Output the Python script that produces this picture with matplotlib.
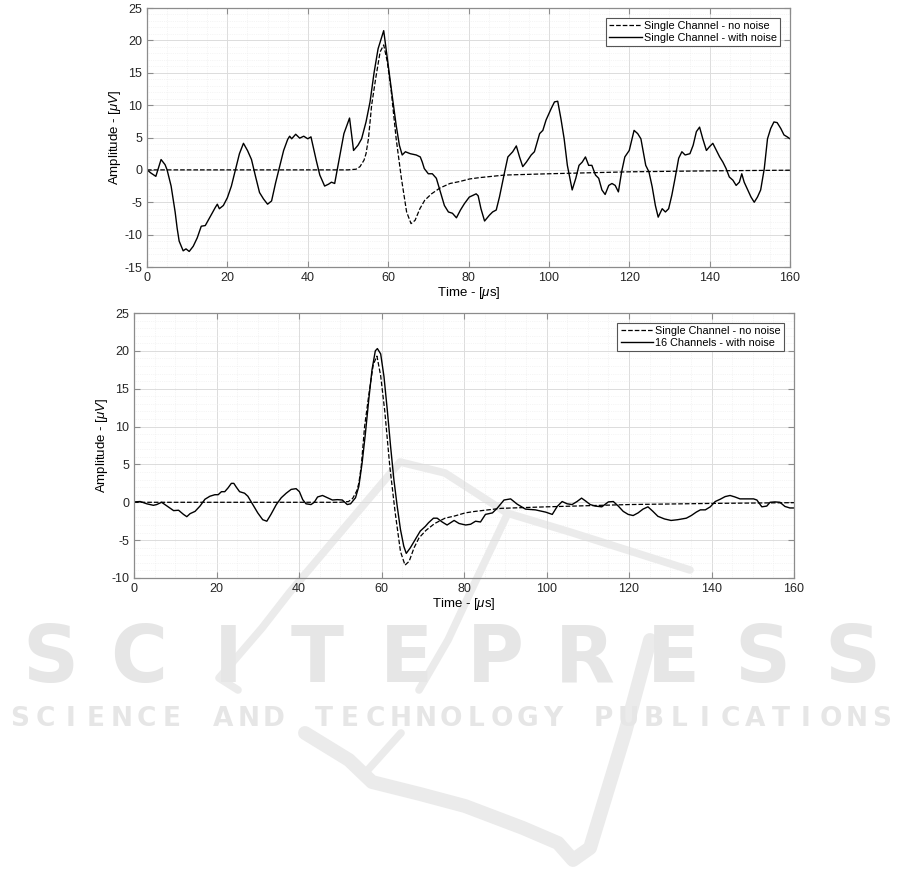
import numpy as np
import matplotlib
matplotlib.use("Agg")
import matplotlib.pyplot as plt
from matplotlib.ticker import MultipleLocator
from matplotlib.lines import Line2D

plt.rcParams['font.family'] = ['Liberation Sans', 'DejaVu Sans']
plt.rcParams['mathtext.fontset'] = 'custom'
plt.rcParams['mathtext.rm'] = 'Liberation Sans'
plt.rcParams['mathtext.it'] = 'Liberation Sans:italic'
plt.rcParams['axes.unicode_minus'] = False

# data
# single channel, with noise (top)
t_top = [0, 1, 2.2, 3.5, 4.5, 5, 6, 7, 7.5, 8, 9, 9.7, 10.5, 11.5, 12.5, 13.5, 14.5, 15.5, 16.2, 17,
         17.5, 18, 19, 20, 21, 22, 23, 24, 25, 26, 27, 28, 29, 30, 31, 32, 33, 34, 35, 35.5,
         36, 37, 38, 39, 40, 40.8, 42.1, 43, 44.2, 45.2, 45.9, 46.7, 48, 49, 50.4, 51.4, 52.5, 53.4, 54.5, 55.5,
         56.5, 57.5, 58.9, 60, 61, 62, 62.8, 63.5, 64.3, 65.5, 67, 68, 68.5, 69, 70, 71, 72, 73, 74, 75,
         76, 77, 78, 79, 80.2, 81.9, 82.4, 83.1, 84, 85.2, 86, 86.9, 87.7, 89, 89.8, 91, 91.9, 92.7, 93.5, 94.4,
         95.6, 96.4, 97.7, 98.5, 99.3, 100.6, 101.4, 102.2, 103, 103.8, 104.6, 105.8, 106.7, 107.5, 108.3, 109.1, 109.9, 110.7, 111.6, 112.4,
         113.2, 114, 114.9, 115.7, 116.5, 117.3, 118.1, 118.9, 120, 121.2, 122.1, 122.9, 124.1, 124.9, 125.7, 126.5, 127.2, 128.2, 129, 129.8,
         130.6, 131.4, 132.3, 133.1, 133.9, 135.1, 135.9, 136.7, 137.5, 138.3, 139.2, 140, 140.8, 141.7, 142.5, 143.3, 144.1, 144.9, 145.8, 146.6,
         147.4, 148, 148.6, 149.5, 150.3, 151.1, 151.9, 152.7, 153.6, 154.4, 155.2, 156, 156.8, 157.7, 158.5, 159.3, 160]
amp_top = [0.0, -0.5, -1.0, 1.6, 0.8, 0.0, -2.5, -6.5, -9.0, -11.0, -12.5, -12.2, -12.6, -11.8, -10.5, -8.7, -8.6, -7.5, -6.7, -5.8,
           -5.3, -6.0, -5.5, -4.3, -2.5, 0.0, 2.5, 4.1, 3.0, 1.6, -1.0, -3.5, -4.5, -5.3, -4.8, -2.0, 0.5, 3.0, 4.7, 5.2,
           4.8, 5.5, 4.9, 5.2, 4.8, 5.1, 1.5, -0.8, -2.5, -2.2, -1.9, -2.1, 2.3, 5.6, 8.0, 3.0, 3.8, 4.8, 7.4, 10.5,
           15.0, 18.7, 21.5, 16.2, 11.5, 6.9, 3.8, 2.3, 2.8, 2.5, 2.3, 2.0, 1.2, 0.2, -0.6, -0.6, -1.3, -3.4, -5.5, -6.5,
           -6.7, -7.4, -6.2, -5.2, -4.2, -3.7, -4.0, -6.0, -7.9, -7.0, -6.5, -6.2, -4.2, -0.3, 2.0, 2.8, 3.7, 2.0, 0.5, 1.2,
           2.3, 2.8, 5.6, 6.1, 7.7, 9.5, 10.5, 10.6, 7.9, 4.8, 0.7, -3.1, -1.3, 0.7, 1.2, 2.0, 0.7, 0.7, -0.8, -1.3,
           -3.1, -3.8, -2.4, -2.1, -2.4, -3.4, -0.3, 2.0, 3.0, 6.1, 5.6, 4.8, 0.7, -0.3, -2.6, -5.5, -7.3, -6.0, -6.5, -6.0,
           -3.9, -1.3, 1.8, 2.8, 2.3, 2.5, 3.8, 5.9, 6.6, 4.8, 3.0, 3.6, 4.1, 3.0, 2.0, 1.2, 0.2, -1.1, -1.6, -2.4,
           -1.9, -0.6, -1.9, -3.1, -4.2, -5.0, -4.2, -3.1, 0.2, 4.8, 6.4, 7.4, 7.3, 6.4, 5.4, 5.1, 4.8]

# single channel, no noise (both plots)
t_clean = [0, 50, 52, 53, 54, 54.5, 55.1, 55.9, 56.9, 58, 58.9, 59.8, 60.8, 62, 63.3, 64.6, 65.7, 66.7, 67.9, 69.1,
           70.8, 72.9, 75.4, 77.8, 80.3, 82.7, 89, 100, 110, 120, 140, 160]
amp_clean = [0, 0, 0.1, 0.5, 1.5, 2.5, 4.8, 10.0, 14.1, 18.2, 19.3, 16.7, 12.0, 4.8, -1.3, -6.5, -8.3, -7.8, -6.0, -4.7,
             -3.7, -2.8, -2.1, -1.8, -1.4, -1.2, -0.8, -0.6, -0.45, -0.3, -0.15, -0.05]

# 16 channels, with noise (bottom)
t_bot = [0, 1.5, 3.1, 4.7, 5.5, 6.7, 8, 9.6, 10.8, 12, 12.8, 13.6, 14.8, 16, 17.2, 18.4, 19.6, 20.4, 21.2, 22,
         22.8, 23.6, 24.2, 24.8, 25.6, 26.8, 27.6, 28.8, 30, 31.2, 32.2, 33.2, 34.5, 35.7, 36.9, 38.1, 39.3, 40.1, 40.9, 41.7,
         42.9, 43.7, 44.5, 45.7, 46.9, 48.1, 49.3, 50.5, 51.7, 52.5, 53.7, 54.5, 55.3, 56.1, 56.9, 57.7, 58.5, 59, 59.8, 60.6,
         61.4, 62.2, 63, 63.8, 64.6, 65.4, 66, 67, 68.2, 69.4, 70.6, 71.4, 72.6, 73.5, 74.7, 75.9, 77.6, 78.8, 80.4, 81.6,
         82.8, 84, 85.2, 86.9, 88.1, 89.7, 91.3, 92.9, 94.9, 97.3, 99.8, 101.4, 102.6, 103.8, 105, 106.2, 107.4, 108.5, 109.4, 110.6,
         111.8, 113.4, 115, 116.2, 117.4, 118.6, 119.8, 121, 122.2, 123.4, 124.6, 125.8, 127, 128.6, 130.2, 131.8, 133.9, 135.1, 136.3, 137.3,
         138.5, 139.7, 140.9, 142.1, 143.3, 144.5, 145.7, 146.9, 148.5, 150.2, 151, 152.2, 153.4, 154.2, 155.4, 156.6, 157.8, 159, 160]
amp_bot = [0.05, 0.1, -0.2, -0.4, -0.3, 0.0, -0.5, -1.1, -1.05, -1.6, -1.9, -1.5, -1.2, -0.5, 0.4, 0.8, 1.0, 1.0, 1.4, 1.4,
           1.9, 2.5, 2.5, 2.0, 1.4, 1.2, 0.8, -0.3, -1.4, -2.3, -2.5, -1.6, -0.3, 0.6, 1.2, 1.7, 1.8, 1.4, 0.35, -0.2,
           -0.3, 0.0, 0.7, 0.9, 0.6, 0.3, 0.35, 0.3, -0.3, -0.2, 0.6, 2.1, 5.2, 9.1, 13.5, 17.5, 20.0, 20.3, 19.6, 16.6,
           12.2, 7.4, 3.0, -0.5, -3.6, -5.8, -6.75, -6.0, -4.9, -3.8, -3.2, -2.7, -2.1, -2.1, -2.6, -3.0, -2.4, -2.8, -3.0, -2.9,
           -2.5, -2.6, -1.6, -1.4, -0.75, 0.3, 0.45, -0.25, -0.9, -1.0, -1.3, -1.6, -0.55, 0.1, -0.2, -0.3, 0.1, 0.55, 0.2, -0.3,
           -0.5, -0.6, 0.05, 0.1, -0.5, -1.2, -1.6, -1.75, -1.4, -0.9, -0.6, -1.2, -1.85, -2.2, -2.4, -2.3, -2.1, -1.75, -1.3, -1.0,
           -1.0, -0.6, 0.1, 0.4, 0.75, 0.9, 0.7, 0.45, 0.45, 0.45, 0.3, -0.6, -0.5, 0.0, 0.05, 0.0, -0.55, -0.75, -0.75]

W, H = 901, 886
fig = plt.figure(figsize=(W / 100, H / 100), dpi=100)

def px(x, y):
    return x / W, 1 - y / H

# watermark (behind the axes content)
wm = '#e6e6e6'
def spread(s, x0, x1, y, size):
    xs = np.linspace(x0, x1, len(s))
    for ch, x in zip(s, xs):
        fx, fy = px(x, y)
        fig.text(fx, fy, ch, fontsize=size, color=wm, family='DejaVu Sans', weight='bold',
                 ha='center', va='center', zorder=1)

spread("SCITEPRESS", 50, 852, 660, 56)
spread("SCIENCE AND TECHNOLOGY PUBLICATIONS", 20, 882, 719, 19)

strokes = [
    ([(238, 690), (219, 678), (262, 628), (290, 592), (400, 462), (445, 473), (507, 513), (570, 532), (690, 570)], 5.5),
    ([(507, 515), (470, 593), (448, 640), (419, 690)], 5.5),
    ([(401, 733), (366, 772)], 5.5),
    ([(305, 733), (349, 760), (372, 782), (420, 794), (465, 806), (523, 828), (558, 843), (573, 860), (590, 848), (625, 733), (650, 640)], 10),
]
for pts, lw in strokes:
    xy = np.array([px(x, y) for x, y in pts])
    fig.add_artist(Line2D(xy[:, 0], xy[:, 1], transform=fig.transFigure, color='#ebebeb',
                          lw=lw, solid_capstyle='round', solid_joinstyle='round', zorder=1))

ax1 = fig.add_axes([147 / W, 1 - 267 / H, (790 - 147) / W, (267 - 8) / H])
ax2 = fig.add_axes([134 / W, 1 - 578 / H, (794 - 134) / W, (578 - 313) / H])

ax1.plot(t_clean, amp_clean, '--', color='black', lw=0.9, label='Single Channel - no noise')
ax1.plot(t_top, amp_top, '-', color='black', lw=1.0, label='Single Channel - with noise')
ax2.plot(t_clean, amp_clean, '--', color='black', lw=0.9, label='Single Channel - no noise')
ax2.plot(t_bot, amp_bot, '-', color='black', lw=1.0, label='16 Channels - with noise')

ax1.set_ylim(-15, 25)
ax2.set_ylim(-10, 25)

for ax in (ax1, ax2):
    ax.set_zorder(2)
    ax.set_facecolor('none')
    ax.set_xlim(0, 160)
    ax.xaxis.set_major_locator(MultipleLocator(20))
    ax.xaxis.set_minor_locator(MultipleLocator(5))
    ax.yaxis.set_major_locator(MultipleLocator(5))
    ax.yaxis.set_minor_locator(MultipleLocator(1))
    ax.grid(True, which='major', color='#dcdcdc', lw=0.7, ls='-')
    ax.grid(True, which='minor', color='#ececec', lw=0.5, ls=':')
    ax.set_axisbelow(True)
    ax.tick_params(which='both', direction='in', top=True, right=True, colors='#8c8c8c',
                   labelcolor='#262626', labelsize=9)
    ax.tick_params(which='major', length=4)
    ax.tick_params(which='minor', length=0)
    for s in ax.spines.values():
        s.set_color('#8c8c8c')
        s.set_linewidth(0.9)
    ax.set_xlabel(r'Time - [$\mu$s]', fontsize=9.5, labelpad=1)
    ax.set_ylabel(r'Amplitude - [$\mu V$]', fontsize=9.5, labelpad=1)
    leg = ax.legend(loc='upper right', fontsize=7.8, handlelength=3.0, handletextpad=0.2,
                    borderpad=0.3, labelspacing=0.2, fancybox=False, framealpha=1,
                    borderaxespad=0.9)
    leg.get_frame().set_edgecolor('#555555')
    leg.get_frame().set_linewidth(0.8)

fig.savefig('out.png', dpi=100)
